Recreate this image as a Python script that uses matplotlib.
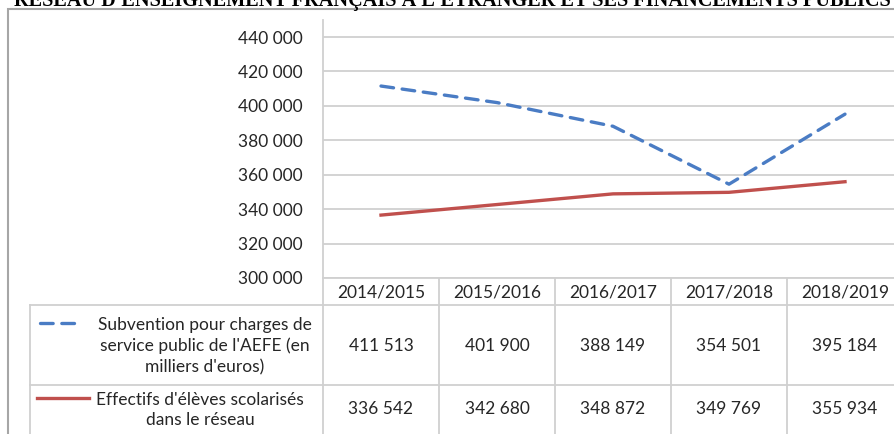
import matplotlib.pyplot as plt
from matplotlib import transforms
from matplotlib.lines import Line2D
from matplotlib.patches import Rectangle

# -----------------------------
# DATA
# -----------------------------
years = ["2014/2015", "2015/2016", "2016/2017", "2017/2018", "2018/2019"]
subvention = [411513, 401900, 388149, 354501, 395184]
effectifs = [336542, 342680, 348872, 349769, 355934]
yticks = [300000, 320000, 340000, 360000, 380000, 400000, 420000, 440000]

title = "RÉSEAU D'ENSEIGNEMENT FRANÇAIS À L'ÉTRANGER ET SES FINANCEMENTS PUBLICS"
label_subvention = "Subvention pour charges de\nservice public de l'AEFE (en\nmilliers d'euros)"
label_effectifs = "Effectifs d'élèves scolarisés\ndans le réseau"

BLUE = "#4a7cc4"
RED = "#c0504d"
GRID = "#d0d0d0"
TEXT = "#262626"
FS = 12.5

plt.rcParams["font.family"] = ["Lato", "DejaVu Sans"]

W, H = 895, 434


def fx(px):
    return px / W


def fy(px):
    return 1 - px / H


def fmt(v):
    return f"{v:,}".replace(",", " ")


fig = plt.figure(figsize=(W / 100, H / 100), dpi=100)

# chart border
fig.add_artist(Rectangle((fx(8), fy(470)), fx(900), 470 / H - 9 / H,
                         transform=fig.transFigure, fill=False,
                         edgecolor="#a6a6a6", linewidth=1.5))

# title, cut off at the top of the picture as in the source
fig.text(fx(14), fy(6), title, family="Liberation Serif", fontweight="bold",
         fontsize=14.6, va="baseline", ha="left", color="black")

# -----------------------------
# LINE CHART
# -----------------------------
px_per_unit = 241 / 140000
ax = fig.add_axes([fx(323), fy(278), fx(580), (278 - 20) / H])
ax.set_xlim(-0.5, len(years) - 0.5)
ax.set_ylim(300000, 300000 + (278 - 20) / px_per_unit)

x = list(range(len(years)))
ax.plot(x, subvention, color=BLUE, linewidth=2.4, linestyle=(0, (3.8, 2.6)),
        dash_capstyle="round", zorder=3)
ax.plot(x, effectifs, color=RED, linewidth=2.4, zorder=3)

ax.set_yticks(yticks)
ax.set_yticklabels([fmt(v) for v in yticks], fontsize=FS, color=TEXT)
ax.tick_params(axis="y", length=0, pad=14.5)
ax.set_xticks([])
ax.grid(axis="y", color=GRID, linewidth=1.3)
ax.set_axisbelow(True)
for side in ["top", "right", "bottom"]:
    ax.spines[side].set_visible(False)
ax.spines["left"].set_color(GRID)
ax.spines["left"].set_linewidth(1.3)

# -----------------------------
# DATA TABLE
# -----------------------------
trans = transforms.blended_transform_factory(ax.transData, fig.transFigure)

# horizontal rules
fig.add_artist(Line2D([fx(323), 1.02], [fy(278), fy(278)], transform=fig.transFigure,
                      color=GRID, linewidth=1.3))
for row_top in [305, 385]:
    fig.add_artist(Line2D([fx(30), 1.02], [fy(row_top), fy(row_top)],
                          transform=fig.transFigure, color=GRID, linewidth=1.3))
fig.add_artist(Line2D([fx(30), fx(30)], [fy(305), 0], transform=fig.transFigure,
                      color=GRID, linewidth=1.3))

# vertical rules at category boundaries
for i in range(len(years) + 1):
    fig.add_artist(Line2D([i - 0.5, i - 0.5], [fy(278), 0], transform=trans,
                          color=GRID, linewidth=1.3))

for i, year in enumerate(years):
    fig.text(i, fy(292), year, transform=trans, ha="center", va="center",
             fontsize=FS, color=TEXT)
    fig.text(i, fy(346), fmt(subvention[i]), transform=trans, ha="center",
             va="center", fontsize=FS, color=TEXT)
    fig.text(i, fy(409), fmt(effectifs[i]), transform=trans, ha="center",
             va="center", fontsize=FS, color=TEXT)

# row labels with legend keys
fig.text(fx(205), fy(346), label_subvention, ha="center", va="center",
         fontsize=FS, color=TEXT, linespacing=1.35)
fig.text(fx(200), fy(410), label_effectifs, ha="center", va="center",
         fontsize=FS, color=TEXT, linespacing=1.35)
fig.add_artist(Line2D([fx(40), fx(80)], [fy(323), fy(323)], transform=fig.transFigure,
                      color=BLUE, linewidth=2.4, linestyle=(0, (3.8, 2.6)),
                      dash_capstyle="round"))
fig.add_artist(Line2D([fx(37), fx(89)], [fy(398), fy(398)], transform=fig.transFigure,
                      color=RED, linewidth=2.4))

fig.savefig("out.png", dpi=100)
plt.close(fig)
